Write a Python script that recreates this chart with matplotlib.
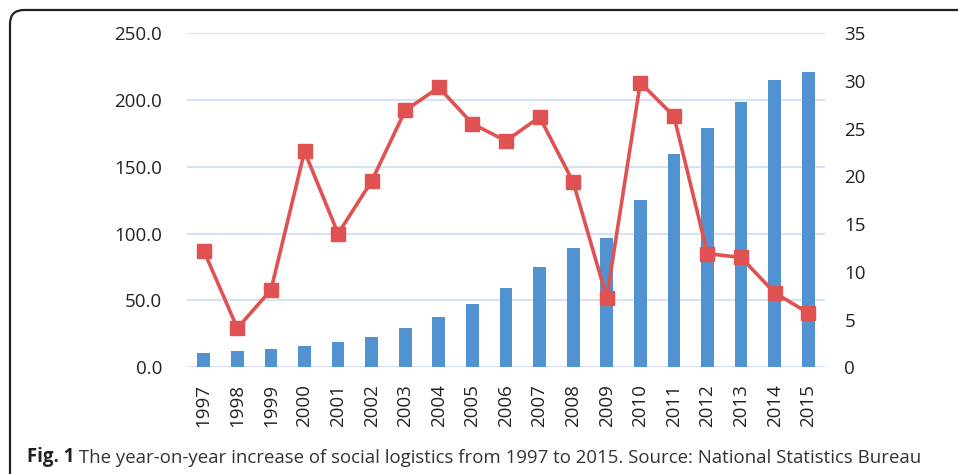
import matplotlib.pyplot as plt
from matplotlib.patches import FancyBboxPatch

plt.rcParams['font.family'] = ['Open Sans', 'DejaVu Sans']

years = [str(y) for y in range(1997, 2016)]
# total amount of social logistics (left axis)
totals = [11.0, 12.5, 13.8, 16.3, 18.6, 22.3, 29.6, 37.7, 47.2, 59.2,
          75.1, 89.4, 96.7, 125.3, 159.5, 178.6, 198.7, 214.5, 220.5]
# year-on-year increase, % (right axis)
growth = [12.2, 4.1, 8.1, 22.6, 14.0, 19.5, 26.9, 29.3, 25.5, 23.7,
          26.2, 19.4, 7.3, 29.8, 26.3, 11.9, 11.5, 7.8, 5.7]
left_ticks = [0, 50, 100, 150, 200, 250]
right_ticks = [0, 5, 10, 15, 20, 25, 30, 35]

fig = plt.figure(figsize=(9.58, 4.74), dpi=100)

# rounded frame around the figure (cut off at right and bottom)
frame = FancyBboxPatch((0.10, -1.0), 10.0, 4.74 - 0.10 + 1.0,
                       boxstyle="round,pad=0,rounding_size=0.14",
                       transform=fig.dpi_scale_trans, fill=False,
                       edgecolor='#222222', linewidth=1.6)
fig.patches.append(frame)

ax = fig.add_axes([187 / 958, 1 - 367.3 / 474, 638 / 958, (367.3 - 33) / 474])
x = range(len(years))
ax.bar(x, totals, width=0.38, color='#5192D0', zorder=2)
ax.set_ylim(0, 250)
ax.set_yticks(left_ticks)
ax.set_yticklabels([f"{v:.1f}" for v in left_ticks])
ax.set_xlim(-0.5, len(years) - 0.5)
ax.set_xticks(list(x))
ax.set_xticklabels(years, rotation=90)
ax.grid(axis='y', color='#D6E2F5', linewidth=1.5, zorder=0)
ax.set_axisbelow(True)
ax.tick_params(length=0, labelsize=13.5, colors='#222222')
ax.tick_params(axis='y', pad=18)
ax.tick_params(axis='x', pad=12)
for s in ax.spines.values():
    s.set_visible(False)

ax2 = ax.twinx()
ax2.plot(x, growth, color='#E05252', linewidth=2.6, marker='s', markersize=10.5, zorder=3)
ax2.set_ylim(0, 35)
ax2.set_yticks(right_ticks)
ax2.tick_params(length=0, labelsize=13.5, colors='#222222', pad=14)
for s in ax2.spines.values():
    s.set_visible(False)

t1 = fig.text(27 / 958, 1 - 457 / 474, "Fig. 1", fontsize=13.4, fontweight='bold',
              va='center', color='#222222')
ax.annotate(" The year-on-year increase of social logistics from 1997 to 2015. "
            "Source: National Statistics Bureau",
            xy=(1, 0), xycoords=t1, va='bottom', ha='left', fontsize=13.4,
            color='#333333', annotation_clip=False)

plt.savefig('out.png', dpi=100)
